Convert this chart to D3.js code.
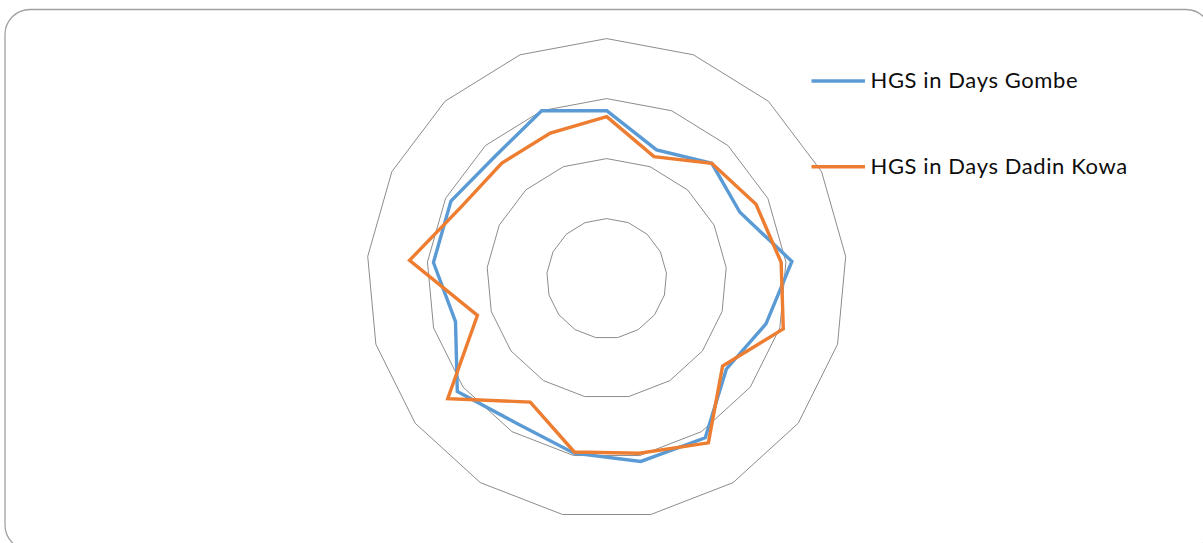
<!DOCTYPE html>
<html>
<head>
<meta charset="utf-8">
<script src="https://cdn.jsdelivr.net/npm/d3@7"></script>
<style>
  html, body { margin: 0; padding: 0; background: #ffffff; }
  svg { display: block; }
</style>
</head>
<body>
<svg id="chart" width="1203" height="543"></svg>
<script>
// ---- data ----
const categories = ["1","2","3","4","5","6","7","8","9","10","11","12","13","14","15","16","17"];
const seriesNames = ["HGS in Days Gombe", "HGS in Days Dadin Kowa"];
const gombe     = [14.0, 11.5, 13.0, 12.4, 15.5, 13.8, 12.5, 15.6, 15.5, 14.8, 14.2, 15.6, 13.1, 14.5, 14.5, 13.8, 15.0];
const dadinKowa = [13.5, 10.9, 13.0, 13.9, 14.6, 15.3, 12.1, 16.1, 14.8, 14.7, 12.1, 16.6, 11.2, 16.5, 13.5, 13.0, 13.0];
const gridTicks = [5, 10, 15, 20];
const colors = ["#5B9BD5", "#ED7D31"];

// ---- layout ----
const svg = d3.select("#chart");
const cx = 606.7, cy = 278.6, R = 240;

// chart frame
svg.append("rect")
  .attr("x", 5).attr("y", 9.5)
  .attr("width", 1206).attr("height", 540.5)
  .attr("rx", 25).attr("ry", 25)
  .attr("fill", "#ffffff")
  .attr("stroke", "#a0a0a0")
  .attr("stroke-width", 1.3);

const r = d3.scaleLinear().domain([0, 20]).range([0, R]);
const angle = d3.scaleLinear().domain([0, categories.length]).range([0, 2 * Math.PI]);

const g = svg.append("g").attr("transform", `translate(${cx},${cy})`);

// grid rings
const ringLine = d3.lineRadial()
  .angle((d, i) => angle(i))
  .radius(d => r(d))
  .curve(d3.curveLinearClosed);

g.selectAll("path.ring")
  .data(gridTicks)
  .join("path")
  .attr("class", "ring")
  .attr("d", t => ringLine(categories.map(() => t)))
  .attr("fill", "none")
  .attr("stroke", "#8c8c8c")
  .attr("stroke-width", 1);

// series
const series = [gombe, dadinKowa];
const seriesLine = d3.lineRadial()
  .angle((d, i) => angle(i))
  .radius(d => r(d))
  .curve(d3.curveLinearClosed);

g.selectAll("path.series")
  .data(series)
  .join("path")
  .attr("class", "series")
  .attr("d", d => seriesLine(d))
  .attr("fill", "none")
  .attr("stroke", (d, i) => colors[i])
  .attr("stroke-width", 3.4)
  .attr("stroke-linejoin", "miter");

// legend
const legendY = [81, 166.7];
const legend = svg.append("g");
seriesNames.forEach((name, i) => {
  legend.append("line")
    .attr("x1", 811.5).attr("x2", 865)
    .attr("y1", legendY[i]).attr("y2", legendY[i])
    .attr("stroke", colors[i])
    .attr("stroke-width", 3.4);
  legend.append("text")
    .attr("x", 870.5)
    .attr("y", legendY[i] + 7)
    .attr("font-family", "Lato, 'Open Sans', sans-serif")
    .attr("font-size", 22)
    .attr("letter-spacing", 0.6)
    .attr("fill", "#0d0d0d")
    .text(name);
});
</script>
</body>
</html>
